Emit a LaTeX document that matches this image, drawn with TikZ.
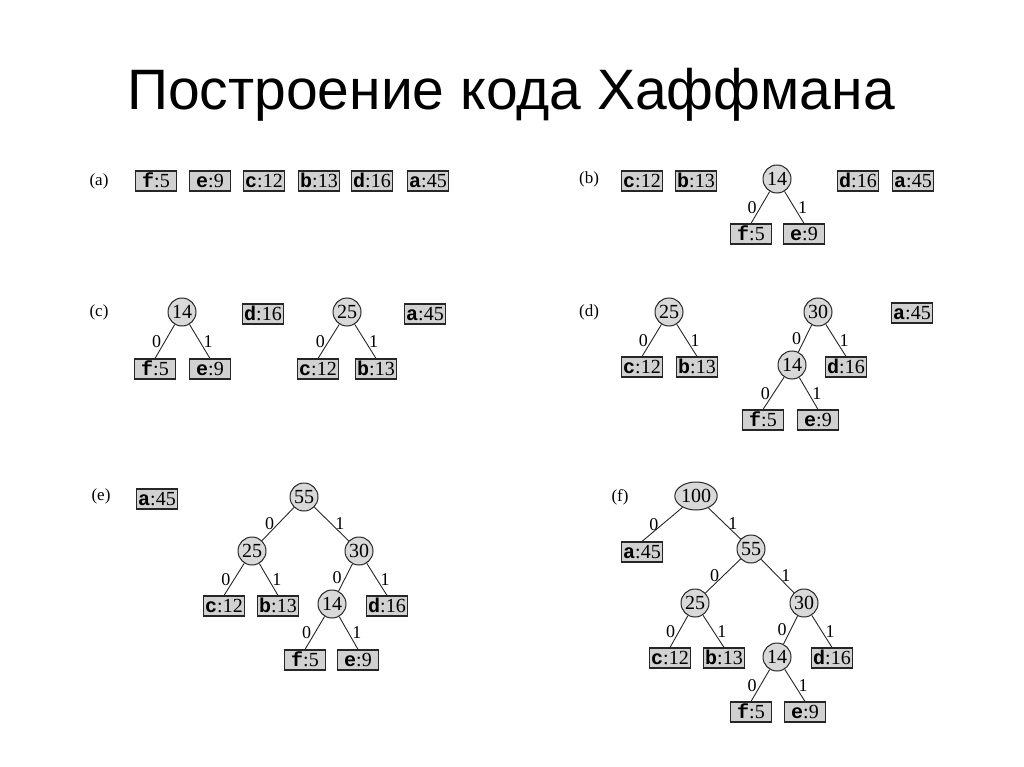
\documentclass[tikz,border=0pt]{standalone}
\usepackage{fontspec}
\setmainfont{Liberation Serif}
\setmonofont{Liberation Mono}
\newfontfamily\titlefont{Liberation Sans}
\usetikzlibrary{shapes.geometric}
\tikzset{
 leaf/.style={draw=black!85, line width=1.1pt, fill=black!18, minimum width=41pt, minimum height=20pt, inner sep=0pt, text height=13pt, text depth=0pt, font=\fontsize{20}{20}\selectfont},
 inner/.style={circle, draw=black!85, line width=1pt, fill=black!15, minimum size=28pt, inner sep=0pt, text height=13pt, text depth=0pt, font=\fontsize{20}{20}\selectfont},
 edge/.style={draw=black!85, line width=0.9pt},
 zl/.style={font=\fontsize{18}{18}\selectfont, midway, left=0pt},
 ol/.style={font=\fontsize{18}{18}\selectfont, midway, right=0pt},
 panel/.style={font=\fontsize{17}{17}\selectfont}
}
\newcommand{\lf}[2]{{\ttfamily\bfseries #1}:#2}
\begin{document}
\begin{tikzpicture}[x=1pt,y=-1pt]
\useasboundingbox (0,0) rectangle (1024,767);
\node[font=\titlefont\fontsize{57}{57}\selectfont, anchor=base] (title) at (511,110) {Построение кода Хаффмана};

% (a)
\node[panel] (pa) at (99,181) {(a)};
\node[leaf] (af) at (156,181) {\lf{f}{5}};
\node[leaf] (ae) at (210,181) {\lf{e}{9}};
\node[leaf] (ac) at (264,181) {\lf{c}{12}};
\node[leaf] (ab) at (319,181) {\lf{b}{13}};
\node[leaf] (ad) at (372,181) {\lf{d}{16}};
\node[leaf] (aa) at (428,181) {\lf{a}{45}};

% (b)
\node[panel] (pb) at (589,179) {(b)};
\node[leaf] (bc) at (642,181) {\lf{c}{12}};
\node[leaf] (bb) at (696,181) {\lf{b}{13}};
\node[inner] (b14) at (777,179) {14};
\node[leaf] (bd) at (858,181) {\lf{d}{16}};
\node[leaf] (ba) at (913,181) {\lf{a}{45}};
\node[leaf] (bf) at (751,234) {\lf{f}{5}};
\node[leaf] (be) at (804,234) {\lf{e}{9}};
\draw[edge] (b14) -- node[zl]{0} (bf.north);
\draw[edge] (b14) -- node[ol]{1} (be.north);

% (c)
\node[panel] (pc) at (99,312) {(c)};
\node[inner] (c14) at (182,312) {14};
\node[leaf] (cd) at (263,314) {\lf{d}{16}};
\node[inner] (c25) at (347,312) {25};
\node[leaf] (ca) at (425,314) {\lf{a}{45}};
\node[leaf] (cf) at (155,369) {\lf{f}{5}};
\node[leaf] (ce) at (210,369) {\lf{e}{9}};
\node[leaf] (cc) at (318,369) {\lf{c}{12}};
\node[leaf] (cb) at (376,369) {\lf{b}{13}};
\draw[edge] (c14) -- node[zl]{0} (cf.north);
\draw[edge] (c14) -- node[ol]{1} (ce.north);
\draw[edge] (c25) -- node[zl]{0} (cc.north);
\draw[edge] (c25) -- node[ol]{1} (cb.north);

% (d)
\node[panel] (pd) at (589,312) {(d)};
\node[inner] (d25) at (669,312) {25};
\node[leaf] (dc) at (642,367) {\lf{c}{12}};
\node[leaf] (db) at (697,367) {\lf{b}{13}};
\node[inner] (d30) at (818,312) {30};
\node[leaf] (da) at (912,313) {\lf{a}{45}};
\node[inner] (d14) at (792,365) {14};
\node[leaf] (dd) at (846,367) {\lf{d}{16}};
\node[leaf] (df) at (763,420) {\lf{f}{5}};
\node[leaf] (de) at (818,420) {\lf{e}{9}};
\draw[edge] (d25) -- node[zl]{0} (dc.north);
\draw[edge] (d25) -- node[ol]{1} (db.north);
\draw[edge] (d30) -- node[zl]{0} (d14);
\draw[edge] (d30) -- node[ol]{1} (dd.north);
\draw[edge] (d14) -- node[zl]{0} (df.north);
\draw[edge] (d14) -- node[ol]{1} (de.north);

% (e)
\node[panel] (pe) at (101,496) {(e)};
\node[leaf] (ea) at (157,499) {\lf{a}{45}};
\node[inner] (e55) at (304,497) {55};
\node[inner] (e25) at (252,551) {25};
\node[inner] (e30) at (359,551) {30};
\node[leaf] (ec) at (224,606) {\lf{c}{12}};
\node[leaf] (eb) at (278,606) {\lf{b}{13}};
\node[inner] (e14) at (332,604) {14};
\node[leaf] (ed) at (387,606) {\lf{d}{16}};
\node[leaf] (ef) at (305,660) {\lf{f}{5}};
\node[leaf] (ee) at (358,660) {\lf{e}{9}};
\draw[edge] (e55) -- node[zl]{0} (e25);
\draw[edge] (e55) -- node[ol]{1} (e30);
\draw[edge] (e25) -- node[zl]{0} (ec.north);
\draw[edge] (e25) -- node[ol]{1} (eb.north);
\draw[edge] (e30) -- node[zl]{0} (e14);
\draw[edge] (e30) -- node[ol]{1} (ed.north);
\draw[edge] (e14) -- node[zl]{0} (ef.north);
\draw[edge] (e14) -- node[ol]{1} (ee.north);

% (f)
\node[panel] (pf) at (620,497) {(f)};
\node[inner, ellipse, minimum width=36pt, minimum height=28pt] (f100) at (696,496) {100};
\node[leaf] (fa) at (642,552) {\lf{a}{45}};
\node[inner] (f55) at (751,549) {55};
\node[inner] (f25) at (695,603) {25};
\node[inner] (f30) at (804,603) {30};
\node[leaf] (fc) at (670,658) {\lf{c}{12}};
\node[leaf] (fb) at (724,658) {\lf{b}{13}};
\node[inner] (f14) at (777,657) {14};
\node[leaf] (fd) at (832,658) {\lf{d}{16}};
\node[leaf] (ff) at (751,712) {\lf{f}{5}};
\node[leaf] (fe) at (805,712) {\lf{e}{9}};
\draw[edge] (f100) -- node[zl]{0} (fa.north);
\draw[edge] (f100) -- node[ol]{1} (f55);
\draw[edge] (f55) -- node[zl]{0} (f25);
\draw[edge] (f55) -- node[ol]{1} (f30);
\draw[edge] (f25) -- node[zl]{0} (fc.north);
\draw[edge] (f25) -- node[ol]{1} (fb.north);
\draw[edge] (f30) -- node[zl]{0} (f14);
\draw[edge] (f30) -- node[ol]{1} (fd.north);
\draw[edge] (f14) -- node[zl]{0} (ff.north);
\draw[edge] (f14) -- node[ol]{1} (fe.north);
\end{tikzpicture}
\end{document}
